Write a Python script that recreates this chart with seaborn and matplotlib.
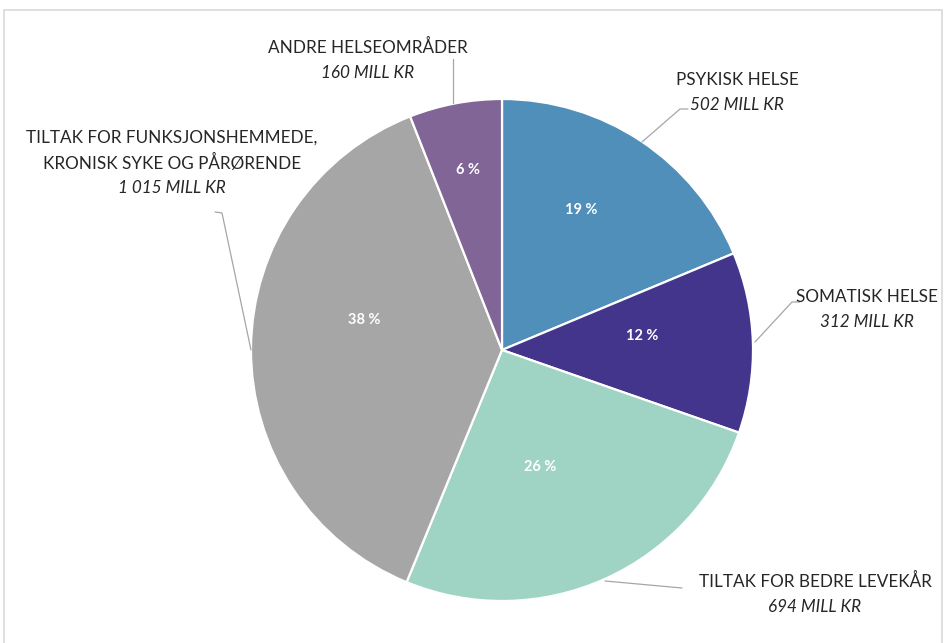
import matplotlib
matplotlib.use("Agg")
import matplotlib.pyplot as plt
from matplotlib.patches import Rectangle
import numpy as np
import seaborn as sns

# Budget per area (million NOK)
categories = [
    "PSYKISK HELSE",
    "SOMATISK HELSE",
    "TILTAK FOR BEDRE LEVEKÅR",
    "TILTAK FOR FUNKSJONSHEMMEDE,\nKRONISK SYKE OG PÅRØRENDE",
    "ANDRE HELSEOMRÅDER",
]
amounts = [502, 312, 694, 1015, 160]
amount_labels = ["502 MILL KR", "312 MILL KR", "694 MILL KR", "1 015 MILL KR", "160 MILL KR"]
pct_labels = ["19 %", "12 %", "26 %", "38 %", "6 %"]
colors = ["#4f8fba", "#44358c", "#9fd4c5", "#a6a6a6", "#806596"]

sns.set_theme(style="white")
plt.rcParams["font.family"] = ["Lato", "DejaVu Sans"]

W, H, DPI = 944, 643, 100
fig = plt.figure(figsize=(W / DPI, H / DPI), dpi=DPI)
fig.patch.set_facecolor("white")

# Light frame around the chart area
fig.add_artist(Rectangle((4 / W, -0.05), (938) / W, (H - 10) / H + 0.05,
                         transform=fig.transFigure, fill=False,
                         edgecolor="#d9d9d9", linewidth=1.2))

ax = fig.add_axes([0, 0, 1, 1])
R_PX = 251.0
cx, cy = 502.0, 350.0

wedges, _ = ax.pie(amounts, colors=colors, startangle=90, counterclock=False,
                   radius=1.0, wedgeprops=dict(edgecolor="white", linewidth=1.6))

# pie() resets the limits, so place the view afterwards
ax.set_xlim(-cx / R_PX, (W - cx) / R_PX)
ax.set_ylim(-(H - cy) / R_PX, cy / R_PX)
ax.set_aspect("equal", adjustable="datalim")
ax.axis("off")

# Percentage labels inside the slices
pct_radius = [0.64, 0.56, 0.49, 0.56, 0.73]
pct_angle_shift = [4, 4, -6, -12, 0]
for w, lab, r, da in zip(wedges, pct_labels, pct_radius, pct_angle_shift):
    mid = np.deg2rad((w.theta1 + w.theta2) / 2 + da)
    ax.text(r * np.cos(mid), r * np.sin(mid), lab, ha="center", va="center",
            color="white", fontsize=10.5, fontweight="bold")

# Outside labels: centre of each label block and its leader line path
def px(x, y):
    return (x - cx) / R_PX, (cy - y) / R_PX

label_pos = [px(737, 92), px(867, 309), px(815, 594), px(172, 163), px(368, 60)]
leaders = [
    [(642, 142), (680, 109), (688, 109)],
    [(755, 342), (792, 302), (800, 302)],
    [(605, 581), (682, 588)],
    [(251, 350), (222, 213), (215, 212)],
    [(453, 103), (453, 59)],
]
line_h = 25 / R_PX
for cat, amt, (lx, ly), path in zip(categories, amount_labels, label_pos, leaders):
    n = cat.count("\n") + 1
    total = n + 1
    top = ly + (total - 1) / 2 * line_h
    for i, line in enumerate(cat.split("\n")):
        ax.text(lx, top - i * line_h, line, ha="center", va="center",
                fontsize=12.3, color="#262626")
    ax.text(lx, top - n * line_h, amt, ha="center", va="center",
            fontsize=12.3, color="#262626", style="italic")
    pts = np.array([px(x, y) for x, y in path])
    ax.plot(pts[:, 0], pts[:, 1], color="#a6a6a6", linewidth=0.9)

fig.savefig("out.png", dpi=DPI, facecolor="white")
